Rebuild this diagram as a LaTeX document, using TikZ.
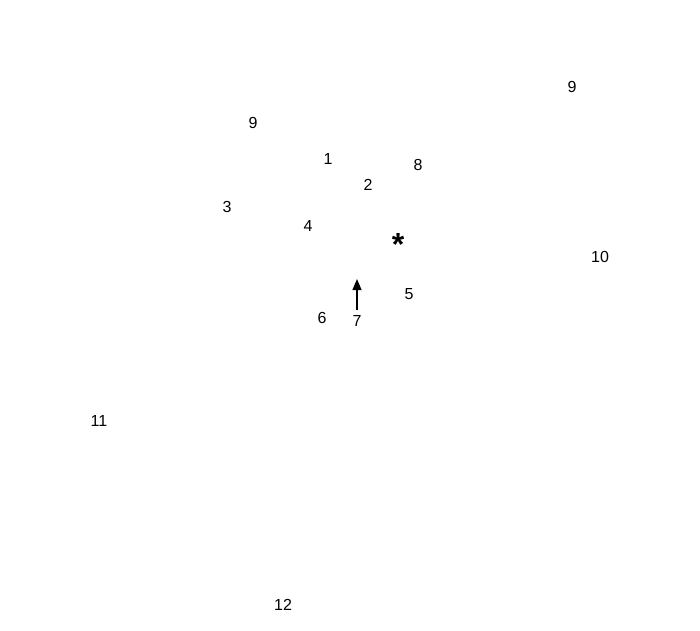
\documentclass[tikz,border=0pt]{standalone}
\usepackage{fontspec}
\setmainfont{Liberation Sans}
\usetikzlibrary{arrows.meta}
\begin{document}
\begin{tikzpicture}[x=1pt,y=-1pt,lbl/.style={font=\fontsize{16}{18}\selectfont,inner sep=1pt}]
\useasboundingbox (0,0) rectangle (700,630);
\node[lbl] (n9a) at (572,87) {9};
\node[lbl] (n9b) at (253,123) {9};
\node[lbl] (n1) at (328,159) {1};
\node[lbl] (n8) at (418,165) {8};
\node[lbl] (n2) at (368,185) {2};
\node[lbl] (n3) at (227,207) {3};
\node[lbl] (n4) at (308,226) {4};
\node[font=\fontsize{32}{34}\selectfont\bfseries,inner sep=0pt] (star) at (398,244) {*};
\node[lbl] (n10) at (600,257) {10};
\node[lbl] (n5) at (409,294) {5};
\node[lbl] (n6) at (322,318) {6};
\node[lbl] (n7) at (357,321) {7};
\coordinate (tip) at (357,279);
\node[lbl] (n11) at (99,421) {11};
\node[lbl] (n12) at (283,605) {12};
\draw[line width=1.2pt,-{Triangle[length=11pt,width=9pt]}] (357,310) -- (tip);
\end{tikzpicture}
\end{document}
